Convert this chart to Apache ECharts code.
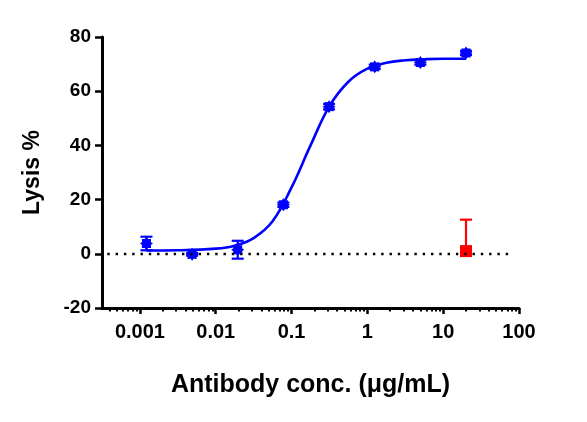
<!DOCTYPE html>
<html>
<head>
<meta charset="utf-8">
<script src="https://cdn.jsdelivr.net/npm/echarts@6/dist/echarts.min.js"></script>
<style>
    html, body { margin: 0; padding: 0; background: #fff; }
    #chart { width: 587px; height: 422px; }
</style>
</head>
<body>
<div id="chart"></div>
<script>
// antibody concentrations (ug/mL), 4-fold dilutions
var conc = [0.00122, 0.00488, 0.0195, 0.078, 0.3125, 1.25, 5, 20];
var lysis = [3.8, -0.2, 1.5, 18.1, 54.3, 69.0, 70.6, 74.1];
var lysisErr = [2.5, 0.5, 3.3, 0.8, 1.0, 0.8, 0.8, 0.8];

// control (red square)
var ctrlConc = [20];
var ctrlLysis = [1.0];
var ctrlErr = [11.6];

// fitted curve
var curveConc = [0.00122, 0.00316, 0.01, 0.0178, 0.0316, 0.0562, 0.1, 0.178, 0.316, 0.562, 1, 1.78, 3.16, 5.62, 10, 20];
var curveLysis = [1.2, 1.3, 1.9, 3.0, 5.8, 12.0, 24.5, 40.0, 54.5, 63.5, 68.3, 70.5, 71.4, 71.8, 72.0, 72.0];

var xTickLabels = ['0.001', '0.01', '0.1', '1', '10', '100'];
var yTicks = [-20, 0, 20, 40, 60, 80];

var chart = echarts.init(document.getElementById('chart'));

var log = function (v) { return Math.log10(v); };
var majorTicks = [-3, -2, -1, 0, 1, 2];
var minorTicks = [];
for (var e = -4; e <= 1; e++) {
    for (var k = 2; k <= 9; k++) {
        var lv = e + Math.log10(k);
        if (lv > -3.5 && lv < 2) minorTicks.push(lv);
    }
}

var star = 'path://M20 10 L16.8 12.3 L17.07 17.07 L12.3 16.8 L10 20 L7.7 16.8 L2.93 17.07 L3.2 12.3 L0 10 L3.2 7.7 L2.93 2.93 L7.7 3.2 L10 0 L12.3 3.2 L17.07 2.93 L16.8 7.7 Z';

function errBar(color, upperOnly) {
    return function (params, api) {
        var x = api.value(0), lo = api.value(1), hi = api.value(2);
        var pTop = api.coord([x, hi]);
        var pBot = api.coord([x, lo]);
        var half = 6;
        var style = { stroke: color, lineWidth: 2.2 };
        var kids = [
            { type: 'line', shape: { x1: pTop[0], y1: pTop[1], x2: pBot[0], y2: pBot[1] }, style: style },
            { type: 'line', shape: { x1: pTop[0] - half, y1: pTop[1], x2: pTop[0] + half, y2: pTop[1] }, style: style }
        ];
        if (!upperOnly) {
            kids.push({ type: 'line', shape: { x1: pBot[0] - half, y1: pBot[1], x2: pBot[0] + half, y2: pBot[1] }, style: style });
        }
        return { type: 'group', children: kids };
    };
}

var option = {
    animation: false,
    grid: { left: 102, right: 68, top: 37, bottom: 114 },
    textStyle: { fontFamily: 'Liberation Sans, Arial, sans-serif' },
    xAxis: [{
        type: 'value',
        min: -3.5,
        max: 2,
        splitLine: { show: false },
        axisLine: { onZero: false, lineStyle: { color: '#000', width: 3 } },
        axisTick: { customValues: majorTicks, length: 6, lineStyle: { color: '#000', width: 2.5 } },
        axisLabel: {
            customValues: majorTicks,
            formatter: function (v) { return xTickLabels[majorTicks.indexOf(Math.round(v))]; },
            color: '#000', fontSize: 20, fontWeight: 'bold', margin: 14
        },
        name: 'Antibody conc. (μg/mL)',
        nameLocation: 'middle',
        nameGap: 65,
        nameTextStyle: { color: '#000', fontSize: 25, fontWeight: 'bold' }
    }, {
        type: 'value',
        position: 'bottom',
        min: -3.5,
        max: 2,
        splitLine: { show: false },
        axisLine: { show: false, onZero: false },
        axisTick: { customValues: minorTicks, length: 3.5, lineStyle: { color: '#000', width: 2 } },
        axisLabel: { show: false }
    }],
    yAxis: {
        type: 'value',
        min: -20,
        max: 80,
        interval: 20,
        splitLine: { show: false },
        axisLine: { show: true, onZero: false, lineStyle: { color: '#000', width: 3 } },
        axisTick: { show: true, length: 7, lineStyle: { color: '#000', width: 2.5 } },
        axisLabel: {
            color: '#000', fontSize: 19, fontWeight: 'bold', margin: 11,
            formatter: function (v) { return yTicks.indexOf(v) >= 0 ? String(v) : ''; }
        },
        name: 'Lysis %',
        nameLocation: 'middle',
        nameGap: 58,
        nameTextStyle: { color: '#000', fontSize: 23, fontWeight: 'bold' }
    },
    series: [{
        type: 'line',
        z: 2,
        smooth: 0.4,
        showSymbol: false,
        lineStyle: { color: '#0000ff', width: 2.6 },
        data: curveConc.map(function (c, i) { return [log(c), curveLysis[i]]; }),
        markLine: {
            silent: true,
            symbol: ['none', 'none'],
            label: { show: false },
            lineStyle: { color: '#000', width: 2.4, type: [2.4, 5.9] },
            data: [[{ coord: [-3.43, 0] }, { coord: [1.93, 0] }]]
        }
    }, {
        type: 'custom',
        z: 3,
        renderItem: errBar('#0000ff', false),
        data: conc.map(function (c, i) { return [log(c), lysis[i] - lysisErr[i], lysis[i] + lysisErr[i]]; })
    }, {
        type: 'custom',
        z: 3,
        renderItem: errBar('#ff0000', true),
        data: ctrlConc.map(function (c, i) { return [log(c), ctrlLysis[i], ctrlLysis[i] + ctrlErr[i]]; })
    }, {
        type: 'scatter',
        z: 4,
        symbol: star,
        symbolSize: 13,
        itemStyle: { color: '#0000ff', opacity: 1 },
        data: conc.map(function (c, i) { return [log(c), lysis[i]]; })
    }, {
        type: 'scatter',
        z: 4,
        symbol: 'rect',
        symbolSize: 12,
        itemStyle: { color: '#ff0000', opacity: 1 },
        data: ctrlConc.map(function (c, i) { return [log(c), ctrlLysis[i]]; })
    }]
};

chart.setOption(option);
</script>
</body>
</html>
